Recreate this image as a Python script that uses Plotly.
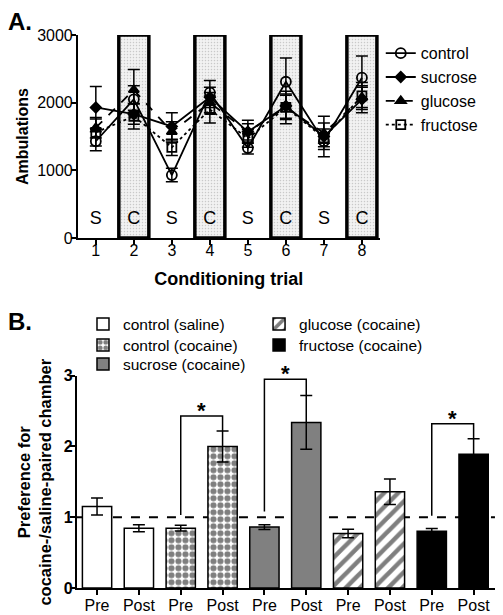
import plotly.graph_objects as go

# ---------------- Panel A data ----------------
trials = [1, 2, 3, 4, 5, 6, 7, 8]
trial_type = ["S", "C", "S", "C", "S", "C", "S", "C"]
box_height = 3000
label_level = 270

control = [1430, 2050, 930, 2150, 1330, 2310, 1430, 2370]
control_err = [140, 200, 100, 180, 90, 350, 120, 320]
sucrose = [1930, 1830, 1650, 2080, 1570, 1950, 1500, 2050]
sucrose_err = [310, 150, 200, 150, 170, 180, 300, 200]
glucose = [1630, 2190, 1570, 2000, 1570, 1930, 1550, 2080]
glucose_err = [150, 300, 150, 150, 120, 180, 150, 150]
fructose = [1560, 1800, 1340, 1900, 1470, 1930, 1480, 2100]
fructose_err = [200, 190, 120, 200, 130, 240, 130, 200]

# ---------------- Panel B data ----------------
b_groups = ["control (saline)", "control (cocaine)", "sucrose (cocaine)",
            "glucose (cocaine)", "fructose (cocaine)"]
b_pre = [1.15, 0.845, 0.86, 0.77, 0.80]
b_pre_err = [0.12, 0.04, 0.035, 0.06, 0.04]
b_post = [0.845, 2.00, 2.34, 1.36, 1.89]
b_post_err = [0.05, 0.22, 0.38, 0.18, 0.22]
b_ticklabels = ["Pre", "Post"] * 5
sig_groups = [1, 2, 4]
sig_left_base = [1.03, 1.08, 1.02]
sig_top = [2.43, 2.95, 2.32]
baseline = 1

FONT = "Arial, Liberation Sans, sans-serif"
fig = go.Figure()

# conditioning boxes (cocaine trials)
c_x = [t for t, k in zip(trials, trial_type) if k == "C"]
fig.add_trace(go.Bar(
    x=c_x, y=[box_height] * len(c_x), width=0.79,
    marker=dict(color="#ececec", line=dict(color="black", width=3.5),
                pattern=dict(shape=".", fgcolor="#9a9a9a", bgcolor="#f2f2f2",
                             size=3, solidity=0.2)),
    cliponaxis=False, showlegend=False, hoverinfo="skip",
    xaxis="x", yaxis="y"))

fig.add_trace(go.Scatter(
    x=trials, y=[label_level] * len(trials), text=trial_type, mode="text",
    textfont=dict(size=18, color="black", family=FONT),
    showlegend=False, xaxis="x", yaxis="y"))

series = [
    ("control", control, control_err, "solid", "circle-open", 10),
    ("sucrose", sucrose, sucrose_err, "solid", "diamond", 8),
    ("glucose", glucose, glucose_err, "dash", "triangle-up", 9),
    ("fructose", fructose, fructose_err, "dot", "square-open", 9),
]
for name, vals, errs, dash, sym, sz in series:
    fig.add_trace(go.Scatter(
        x=trials, y=vals, name=name, mode="lines+markers",
        line=dict(color="black", width=1.8, dash=dash),
        marker=dict(symbol=sym, size=sz, color="black",
                    line=dict(color="black", width=1.8)),
        error_y=dict(type="data", array=errs, color="black",
                     thickness=1.5, width=6),
        xaxis="x", yaxis="y", legend="legend"))

# ---------------- Panel B bars ----------------
styles = [
    dict(color="white"),
    dict(color="white", pattern=dict(shape=".", fgcolor="black", bgcolor="white",
                                     size=7, solidity=0.6)),
    dict(color="#808080"),
    dict(color="white", pattern=dict(shape="/", fgcolor="black", bgcolor="white",
                                     size=10, solidity=0.45)),
    dict(color="black"),
]
legend_ids = ["legend2", "legend3", "legend4", "legend5", "legend6"]
for i, g in enumerate(b_groups):
    m = dict(styles[i])
    m["line"] = dict(color="black", width=1.5)
    fig.add_trace(go.Bar(
        x=[2 * i, 2 * i + 1], y=[b_pre[i], b_post[i]], name=g, width=0.7,
        marker=m,
        error_y=dict(type="data", array=[b_pre_err[i], b_post_err[i]],
                     color="black", thickness=1.5, width=6),
        xaxis="x2", yaxis="y2", legend=legend_ids[i]))

# significance brackets
for g, base, top in zip(sig_groups, sig_left_base, sig_top):
    xl, xr = 2 * g, 2 * g + 1
    fig.add_trace(go.Scatter(
        x=[xl, xl, xr, xr], y=[base, top, top, b_post[g] + b_post_err[g]],
        mode="lines", line=dict(color="black", width=1.5),
        showlegend=False, hoverinfo="skip", xaxis="x2", yaxis="y2",
        cliponaxis=False))
    fig.add_annotation(x=(xl + xr) / 2, y=top, xref="x2", yref="y2",
                       text="*", showarrow=False, yanchor="bottom", yshift=-9,
                       font=dict(size=22, color="black", family=FONT, weight="bold"))

fig.add_shape(type="line", xref="x2 domain", yref="y2", x0=0, x1=1,
              y0=baseline, y1=baseline, layer="below",
              line=dict(color="black", width=2, dash="dash"))

axis_common = dict(showline=True, linecolor="black", linewidth=2, ticks="outside",
                   tickwidth=2, ticklen=5, tickcolor="black", showgrid=False,
                   zeroline=False, automargin=False,
                   tickfont=dict(size=16, color="black", family=FONT))

leg_common = dict(xanchor="left", yanchor="top", bgcolor="rgba(0,0,0,0)",
                  itemwidth=30)
col_left, col_right = 0.165, 0.515
row_tops = [0.5, 0.4659, 0.435]

fig.update_layout(
    width=503, height=615,
    margin=dict(l=0, r=0, t=0, b=0, autoexpand=False),
    paper_bgcolor="white", plot_bgcolor="white", barmode="overlay",
    font=dict(family=FONT, color="black"),
    xaxis=dict(axis_common, domain=[0.155, 0.755], range=[0.53, 8.47],
               tickvals=trials, anchor="y", ticklabelstandoff=-8,
               title=dict(text="Conditioning trial", standoff=14,
                          font=dict(size=18, family=FONT, weight="bold"))),
    yaxis=dict(axis_common, domain=[0.613, 0.943], range=[0, 3000],
               tickvals=[0, 1000, 2000, 3000], anchor="x", ticklabelstandoff=-5,
               title=dict(text="Ambulations", standoff=5,
                          font=dict(size=16, family=FONT, weight="bold"))),
    xaxis2=dict(axis_common, domain=[0.153, 0.984], range=[-0.48, 9.51],
                tickvals=list(range(10)), ticktext=b_ticklabels, anchor="y2",
                ticklabelstandoff=-3),
    yaxis2=dict(axis_common, domain=[0.044, 0.389], range=[0, 3],
                tickvals=[0, 1, 2, 3], anchor="x2", ticklabelstandoff=-6,
                tickfont=dict(size=16, color="black", family=FONT, weight="bold")),
    legend=dict(leg_common, x=0.757, y=0.941, font=dict(size=16, family=FONT)),
    legend2=dict(leg_common, x=col_left, y=row_tops[0], font=dict(size=15.5, family=FONT)),
    legend3=dict(leg_common, x=col_left, y=row_tops[1], font=dict(size=15.5, family=FONT)),
    legend4=dict(leg_common, x=col_left, y=row_tops[2], font=dict(size=15.5, family=FONT)),
    legend5=dict(leg_common, x=col_right, y=row_tops[0], font=dict(size=15.5, family=FONT)),
    legend6=dict(leg_common, x=col_right, y=row_tops[1], font=dict(size=15.5, family=FONT)),
    annotations=list(fig.layout.annotations) + [
        dict(text="A.", x=0.012, y=0.99, xref="paper", yref="paper",
             xanchor="left", yanchor="top", showarrow=False,
             font=dict(size=24, family=FONT, weight="bold")),
        dict(text="B.", x=0.012, y=0.502, xref="paper", yref="paper",
             xanchor="left", yanchor="top", showarrow=False,
             font=dict(size=24, family=FONT, weight="bold")),
        dict(text="Preference for<br>cocaine-/saline-paired chamber",
             x=0.0691, y=0.5, xref="paper", yref="y2 domain",
             xanchor="center", yanchor="middle", textangle=-90, showarrow=False,
             font=dict(size=16.5, family=FONT, weight="bold")),
    ],
)

fig.write_html("out.html", config={"displayModeBar": False},
               post_script="document.body.style.margin='0px';")
